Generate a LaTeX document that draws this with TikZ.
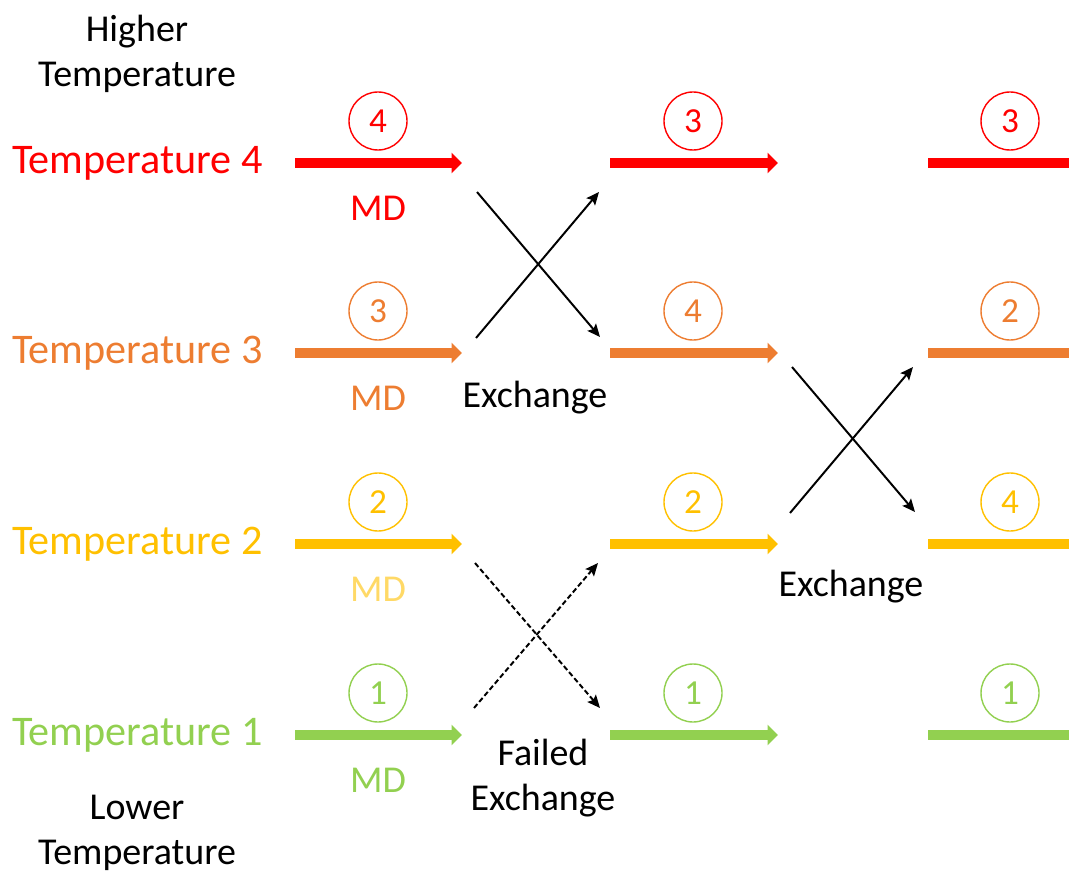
\documentclass[tikz,border=0pt]{standalone}
\usepackage{fontspec}
\setmainfont{Carlito}
\usetikzlibrary{arrows.meta,positioning}
\definecolor{tfour}{HTML}{FF0000}
\definecolor{tthree}{HTML}{ED7D31}
\definecolor{ttwo}{HTML}{FFC000}
\definecolor{tone}{HTML}{92D050}
\definecolor{mdtwo}{HTML}{FFD966}

\begin{document}
\begin{tikzpicture}[
    x=0.025cm, y=-0.025cm,
    font=\fontsize{27}{32}\selectfont,
    txt/.style={inner sep=0pt, align=center},
    templabel/.style={txt, anchor=east, font=\fontsize{30}{34}\selectfont},
    runline/.style={line width=7.5pt},
    runarrow/.style={runline, -{Triangle[length=2.6mm, width=5mm]}},
    replica/.style={circle, draw, line width=1pt, minimum size=1.45cm, inner sep=0pt, font=\fontsize{25}{28}\selectfont},
    swap/.style={line width=1.4pt, -{Stealth[length=3.2mm, width=2.8mm, inset=0.6mm]}},
    failed/.style={swap, dash pattern=on 0.13cm off 0.07cm}
]
\useasboundingbox (0,0) rectangle (1069,872);

\node[txt] (high) at (137,54) {Higher\\Temperature};
\node[txt] (low) at (137,833) {Lower\\Temperature};

% one row per temperature: label, MD runs, replica numbers
\foreach \r/\y/\c/\m/\p/\q in {4/163/tfour/tfour/3/3, 3/353/tthree/tthree/4/2, 2/544/ttwo/mdtwo/2/4, 1/735/tone/tone/1/1} {
  \node[templabel, text=\c] (temp\r) at (263,\y) {Temperature \r};
  \coordinate (a\r) at (295,\y);
  \coordinate (b\r) at (462,\y);
  \coordinate (c\r) at (610,\y);
  \coordinate (d\r) at (778,\y);
  \coordinate (e\r) at (928,\y);
  \coordinate (f\r) at (1069,\y);
  \draw[runarrow, \c] (a\r) -- (b\r);
  \draw[runarrow, \c] (c\r) -- (d\r);
  \draw[runline, \c] (e\r) -- (f\r);
  \node[replica, \c, text=\c] (ra\r) at (378,\y-42) {\r};
  \node[replica, \c, text=\c] (rb\r) at (693,\y-42) {\p};
  \node[replica, \c, text=\c] (rc\r) at (1010,\y-42) {\q};
  \node[txt, text=\m] (md\r) at (378,\y+45) {MD};
}

% exchange 4 <-> 3
\coordinate (xa1) at (477,192);
\coordinate (xa2) at (600,337);
\coordinate (xa3) at (476,338);
\coordinate (xa4) at (599,192);
\draw[swap] (xa1) -- (xa2);
\draw[swap] (xa3) -- (xa4);
\node[txt] (exa) at (535,398) {Exchange};

% exchange 3 <-> 2
\coordinate (xb1) at (792,367);
\coordinate (xb2) at (915,512);
\coordinate (xb3) at (790,513);
\coordinate (xb4) at (913,367);
\draw[swap] (xb1) -- (xb2);
\draw[swap] (xb3) -- (xb4);
\node[txt] (exb) at (851,587) {Exchange};

% failed exchange 2 <-> 1
\coordinate (xc1) at (475,563);
\coordinate (xc2) at (600,708);
\coordinate (xc3) at (474,708);
\coordinate (xc4) at (598,563);
\draw[failed] (xc1) -- (xc2);
\draw[failed] (xc3) -- (xc4);
\node[txt] (exc) at (543,778) {Failed\\Exchange};
\end{tikzpicture}
\end{document}
